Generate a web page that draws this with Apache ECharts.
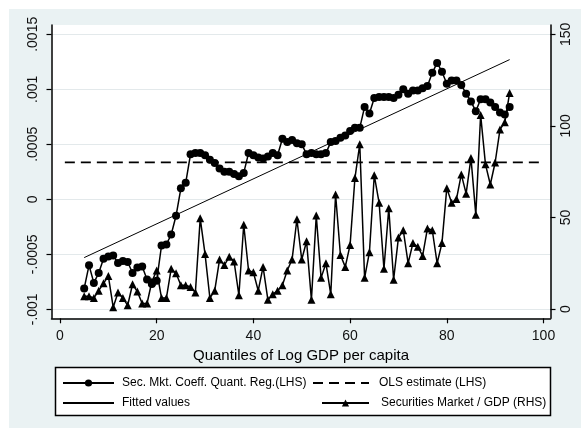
<!DOCTYPE html>
<html><head><meta charset="utf-8">
<script src="https://cdn.jsdelivr.net/npm/echarts@6/dist/echarts.min.js"></script>
<style>html,body{margin:0;padding:0;background:#fff}#c{width:581px;height:428px}</style>
</head><body><div id="c"></div>
<script>
// ---- data ----
const quantiles = [5,6,7,8,9,10,11,12,13,14,15,16,17,18,19,20,21,22,23,24,25,26,27,28,29,30,31,32,33,34,35,36,37,38,39,40,41,42,43,44,45,46,47,48,49,50,51,52,53,54,55,56,57,58,59,60,61,62,63,64,65,66,67,68,69,70,71,72,73,74,75,76,77,78,79,80,81,82,83,84,85,86,87,88,89,90,91,92,93];
const coeffQuantReg = [-0.00081,-0.00060,-0.00076,-0.00067,-0.00054,-0.00052,-0.00051,-0.00058,-0.00056,-0.00057,-0.00067,-0.00062,-0.00061,-0.00073,-0.00077,-0.00074,-0.00042,-0.00041,-0.00032,-0.00015,0.00010,0.00015,0.00041,0.00042,0.00042,0.00040,0.00036,0.00033,0.00028,0.00025,0.00025,0.00023,0.00021,0.00024,0.00042,0.00040,0.00038,0.00037,0.00039,0.00042,0.00040,0.00055,0.00052,0.00054,0.00051,0.00050,0.00041,0.00042,0.00041,0.00041,0.00042,0.00052,0.00053,0.00056,0.00058,0.00062,0.00065,0.00065,0.00084,0.00078,0.00092,0.00093,0.00093,0.00093,0.00092,0.00095,0.00100,0.00096,0.00099,0.00099,0.00101,0.00103,0.00115,0.00124,0.00116,0.00105,0.00108,0.00108,0.00104,0.00096,0.00089,0.00080,0.00091,0.00091,0.00088,0.00084,0.00079,0.00077,0.00084];
const secMarketGDP = [7,7,6,10,14,18,1,9,6,2,13.5,9.5,3,3,15,21,6,6,22,19.5,13,13,12,9,49.5,30,6,10,27,24,28.5,26,7.5,46,21,20,10,23,5,8,10,13,21,27,49,27,37,5,51,17,25,8,62.5,29.5,23,35,71.5,90,17,31,73,58,22,55,16,39,43,25,36,34,29,44,43,25,36,66,58,60,73.5,63,82.5,51.5,106,79,68,80,98,102,118];
const olsEstimate = 0.000336;
const olsX = [1, 100];
const fittedX = [5, 93];
const fittedY = [-0.00053, 0.00127];
const xTicks = [0,20,40,60,80,100];
const leftTicks = [-0.001,-0.0005,0,0.0005,0.001,0.0015];
const leftTickLabels = ['-.001','-.0005','0','.0005','.001','.0015'];
const rightTicks = [0,50,100,150];
const names = ['Sec. Mkt. Coeff. Quant. Reg.(LHS)','OLS estimate (LHS)','Fitted values','Securities Market / GDP (RHS)'];
const xTitle = 'Quantiles of Log GDP per capita';

// ---- chart ----
const FONT = '"Liberation Sans", Arial, sans-serif';
const BLACK = '#000';
const chart = echarts.init(document.getElementById('c'), null, {renderer:'canvas'});
const pair = (xs, ys) => xs.map((x,i)=>[x, ys[i]]);
function leg(name, left, top, iw, gap, hideSymbol){
  const l = {data:[name], left, top, itemWidth:iw, itemHeight:9, padding:0, itemGap:0, selectedMode:false,
    textStyle:{fontSize:12, color:BLACK, fontFamily:FONT, padding:[0,0,0,gap]}, z:10};
  if (hideSymbol) l.itemStyle = {opacity:0};
  return l;
}
chart.setOption({
  backgroundColor:'#eaf2f3',
  animation:false,
  textStyle:{fontFamily:FONT},
  grid:{left:51.5, right:30.5, top:25, bottom:109.7, show:true, backgroundColor:'#fff', borderWidth:0},
  graphic:[
    {type:'rect', shape:{x:0,y:0,width:581,height:9}, style:{fill:'#fff'}, silent:true},
    {type:'rect', shape:{x:0,y:0,width:9,height:428}, style:{fill:'#fff'}, silent:true},
    {type:'rect', shape:{x:55.5,y:367.5,width:495,height:48}, style:{fill:'#fff', stroke:BLACK, lineWidth:1.5}, silent:true, z:1}
  ],
  legend:[
    leg(names[0], 62, 377, 51, 3, false),
    leg(names[1], 312, 377, 56, 5, true),
    leg(names[2], 62, 397, 51, 3, true),
    leg(names[3], 321, 397, 47, 7, false)
  ],
  xAxis:{type:'value', min:-1.76, max:101.45,
    name:xTitle, nameLocation:'middle', nameGap:21,
    nameTextStyle:{fontSize:15, color:BLACK, fontFamily:FONT},
    axisLine:{onZero:false, lineStyle:{color:BLACK, width:1.5}},
    axisTick:{customValues:xTicks, length:5, lineStyle:{color:BLACK, width:1.2}},
    axisLabel:{customValues:xTicks, fontSize:14, color:'#111', margin:11},
    splitLine:{show:false}},
  yAxis:[
    {type:'value', position:'left', min:-0.0010818, max:0.0015845,
     axisLine:{show:true, onZero:false, lineStyle:{color:BLACK, width:1.5}},
     axisTick:{show:true, customValues:leftTicks, length:5, lineStyle:{color:BLACK, width:1.2}},
     axisLabel:{customValues:leftTicks, rotate:90, fontSize:14, color:'#111', margin:11,
       formatter:v=>{const i=leftTicks.findIndex(t=>Math.abs(t-v)<1e-9); return i>=0?leftTickLabels[i]:'';}},
     splitLine:{show:true, lineStyle:{color:'#e3e9eb', width:1}}},
    {type:'value', position:'right', min:-5.08, max:155.08,
     axisLine:{show:true, onZero:false, lineStyle:{color:BLACK, width:1.5}},
     axisTick:{show:true, customValues:rightTicks, length:5, lineStyle:{color:BLACK, width:1.2}},
     axisLabel:{customValues:rightTicks, rotate:90, fontSize:14, color:'#111', margin:9},
     splitLine:{show:false}}
  ],
  series:[
    {name:names[2], type:'line', yAxisIndex:0, data:pair(fittedX, fittedY), symbol:'none',
     lineStyle:{color:BLACK, width:1}, itemStyle:{color:BLACK}, z:2},
    {name:names[1], type:'line', yAxisIndex:0, data:pair(olsX, [olsEstimate, olsEstimate]), symbol:'none',
     lineStyle:{color:BLACK, width:1.6, type:[10,6]}, itemStyle:{color:BLACK}, z:2},
    {name:names[0], type:'line', yAxisIndex:0, data:pair(quantiles, coeffQuantReg), symbol:'circle', symbolSize:8,
     showAllSymbol:true, lineStyle:{color:BLACK, width:1.5}, itemStyle:{color:BLACK}, z:3},
    {name:names[3], type:'line', yAxisIndex:1, data:pair(quantiles, secMarketGDP), symbol:'triangle', symbolSize:8,
     showAllSymbol:true, lineStyle:{color:BLACK, width:1.5}, itemStyle:{color:BLACK}, z:3}
  ]
});
</script></body></html>
